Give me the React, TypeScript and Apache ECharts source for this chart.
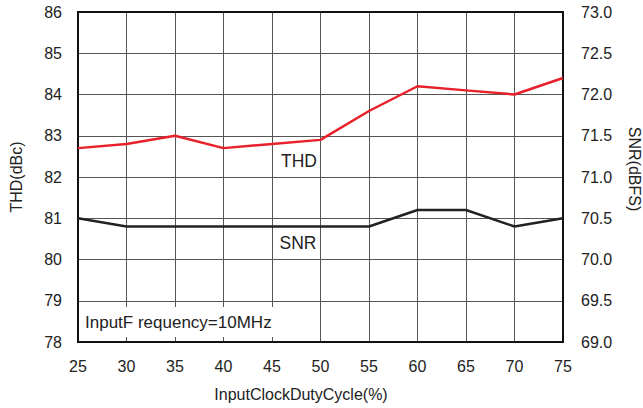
import React, { useEffect, useRef } from "react";
import * as echarts from "echarts";

const dutyCycle = [25, 30, 35, 40, 45, 50, 55, 60, 65, 70, 75];
const thd = [82.7, 82.8, 83.0, 82.7, 82.8, 82.9, 83.6, 84.2, 84.1, 84.0, 84.4];
const snr = [70.5, 70.4, 70.4, 70.4, 70.4, 70.4, 70.4, 70.6, 70.6, 70.4, 70.5];

const FONT = "'Liberation Sans', Arial, Helvetica, sans-serif";
const TXT = "#222";

export default function App() {
  const ref = useRef<HTMLDivElement>(null);
  useEffect(() => {
    if (!ref.current) return;
    const chart = echarts.init(ref.current, undefined, { renderer: "svg" });
    chart.setOption({
      animation: false,
      backgroundColor: "#fff",
      grid: {
        left: 78,
        right: 80,
        top: 12,
        bottom: 66,
        outerBoundsMode: "none",
        containLabel: false,
        show: true,
        borderColor: "#111",
        borderWidth: 2,
        z: 3,
      },
      xAxis: {
        type: "value",
        min: 25,
        max: 75,
        interval: 5,
        name: "InputClockDutyCycle(%)",
        nameLocation: "middle",
        nameGap: 44,
        nameTextStyle: { fontFamily: FONT, fontSize: 16, color: TXT, padding: [0, 39, 0, 0] },
        axisLine: { show: false },
        axisTick: { show: false },
        axisLabel: { fontFamily: FONT, fontSize: 16, color: TXT, margin: 16 },
        splitLine: { show: true, lineStyle: { color: "#555", width: 1 } },
      },
      yAxis: [
        {
          type: "value",
          min: 78,
          max: 86,
          interval: 1,
          position: "left",
          name: "THD(dBc)",
          nameLocation: "middle",
          nameRotate: 90,
          nameGap: 54,
          nameTextStyle: { fontFamily: FONT, fontSize: 16, color: TXT },
          axisLine: { show: false },
          axisTick: { show: false },
          axisLabel: { fontFamily: FONT, fontSize: 16, color: TXT, margin: 16 },
          splitLine: { show: true, lineStyle: { color: "#555", width: 1 } },
        },
        {
          type: "value",
          min: 69,
          max: 73,
          interval: 0.5,
          position: "right",
          name: "SNR(dBFS)",
          nameLocation: "middle",
          nameRotate: -90,
          nameGap: 63,
          nameTextStyle: { fontFamily: FONT, fontSize: 16, color: TXT, padding: [0, 16, 0, 0] },
          axisLine: { show: false },
          axisTick: { show: false },
          axisLabel: {
            fontFamily: FONT,
            fontSize: 16,
            color: TXT,
            margin: 18,
            formatter: (v: number) => v.toFixed(1),
          },
          splitLine: { show: false },
        },
      ],
      series: [
        {
          name: "THD",
          type: "line",
          yAxisIndex: 0,
          data: dutyCycle.map((d, i) => [d, thd[i]]),
          symbol: "none",
          lineStyle: { color: "#e8202a", width: 2.5 },
          z: 5,
        },
        {
          name: "SNR",
          type: "line",
          yAxisIndex: 1,
          data: dutyCycle.map((d, i) => [d, snr[i]]),
          symbol: "none",
          lineStyle: { color: "#222", width: 2.5 },
          z: 5,
        },
      ],
      graphic: [
        {
          type: "rect",
          z: 10,
          shape: { x: 79, y: 307, width: 195, height: 30 },
          style: { fill: "#fff" },
        },
        {
          type: "text",
          z: 11,
          x: 85,
          y: 322,
          style: {
            text: "InputF requency=10MHz",
            font: `17px ${FONT}`,
            fill: TXT,
            textAlign: "left",
            textVerticalAlign: "middle",
          },
        },
        {
          type: "text",
          z: 11,
          x: 299,
          y: 161,
          style: {
            text: "THD",
            font: `17.5px ${FONT}`,
            fill: TXT,
            textAlign: "center",
            textVerticalAlign: "middle",
          },
        },
        {
          type: "text",
          z: 11,
          x: 298,
          y: 243,
          style: {
            text: "SNR",
            font: `17.5px ${FONT}`,
            fill: TXT,
            textAlign: "center",
            textVerticalAlign: "middle",
          },
        },
      ],
    });
    return () => chart.dispose();
  }, []);
  return <div ref={ref} style={{ width: 643, height: 408, position: "absolute", left: 0, top: 0 }} />;
}
